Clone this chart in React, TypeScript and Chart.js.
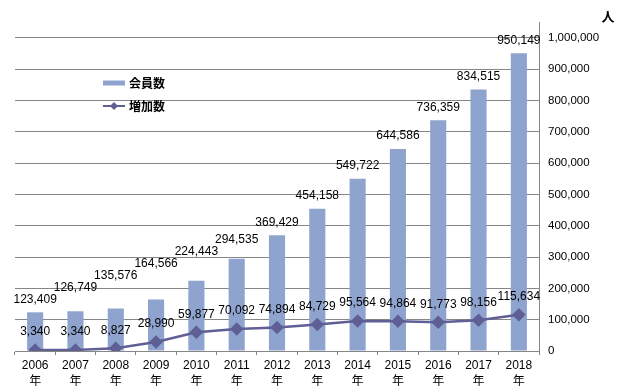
import React, { useEffect, useRef } from "react";
import { Chart, registerables } from "chart.js";

Chart.register(...registerables);

const years = ["2006", "2007", "2008", "2009", "2010", "2011", "2012", "2013", "2014", "2015", "2016", "2017", "2018"];
const members = [123409, 126749, 135576, 164566, 224443, 294535, 369429, 454158, 549722, 644586, 736359, 834515, 950149];
const increase = [3340, 3340, 8827, 28990, 59877, 70092, 74894, 84729, 95564, 94864, 91773, 98156, 115634];
const yTickValues = [0, 100000, 200000, 300000, 400000, 500000, 600000, 700000, 800000, 900000, 1000000];
const seriesNames = ["会員数", "増加数"];
const unitLabel = "人";
const yearSuffix = "年";

const BAR_COLOR = "#8FA3CF";
const LINE_COLOR = "#5F5F96";
const GRID_COLOR = "#868686";
const LATIN = "'Liberation Sans', Arial, sans-serif";
const CJK = "'Noto Sans CJK JP', 'Liberation Sans', sans-serif";
const MIXED = "'Liberation Sans', 'Noto Sans CJK JP', sans-serif";

const fmt = (v: number) => v.toLocaleString("en-US");

const overlayPlugin = {
  id: "overlay",
  afterDatasetsDraw(chart: any) {
    const ctx = chart.ctx;
    ctx.save();
    ctx.fillStyle = "#000";
    ctx.textAlign = "center";
    ctx.textBaseline = "middle";
    ctx.font = `12px ${LATIN}`;
    chart.data.datasets.forEach((ds: any, di: number) => {
      const meta = chart.getDatasetMeta(di);
      const isBar = ds.type === "bar";
      const off = isBar ? -13 : -18;
      let prev: { x: number; y: number; w: number } | null = null;
      meta.data.forEach((el: any, i: number) => {
        const text = fmt(ds.data[i]);
        const w = ctx.measureText(text).width;
        let y = el.y + off;
        if (isBar && prev) {
          const hOverlap = Math.abs(el.x - prev.x) < (w + prev.w) / 2 + 1;
          if (hOverlap && y > prev.y - 11) y = prev.y - 12;
        }
        ctx.fillText(text, el.x, y);
        prev = { x: el.x, y, w };
      });
    });

    // legend
    const lx = 103;
    const lw = 22;
    const ly1 = 83;
    const ly2 = 106;
    ctx.fillStyle = BAR_COLOR;
    ctx.fillRect(lx, ly1 - 2.5, lw, 5);
    ctx.strokeStyle = LINE_COLOR;
    ctx.lineWidth = 2;
    ctx.beginPath();
    ctx.moveTo(lx, ly2);
    ctx.lineTo(lx + lw, ly2);
    ctx.stroke();
    ctx.fillStyle = LINE_COLOR;
    const cx = lx + lw / 2;
    ctx.beginPath();
    ctx.moveTo(cx, ly2 - 4);
    ctx.lineTo(cx + 4, ly2);
    ctx.lineTo(cx, ly2 + 4);
    ctx.lineTo(cx - 4, ly2);
    ctx.closePath();
    ctx.fill();
    ctx.fillStyle = "#000";
    ctx.textAlign = "left";
    ctx.font = `bold 12px ${CJK}`;
    ctx.fillText(seriesNames[0], 129, ly1);
    ctx.fillText(seriesNames[1], 129, ly2);

    // unit
    ctx.font = `bold 13px ${CJK}`;
    ctx.textAlign = "center";
    ctx.fillText(unitLabel, 608, 16);
    ctx.restore();
  },
};

export default function App() {
  const ref = useRef<HTMLCanvasElement | null>(null);
  useEffect(() => {
    if (!ref.current) return;
    const chart = new Chart(ref.current, {
      type: "bar",
      data: {
        labels: years.map((y) => [y, yearSuffix]),
        datasets: [
          {
            type: "line" as const,
            label: seriesNames[1],
            data: increase,
            borderColor: LINE_COLOR,
            backgroundColor: LINE_COLOR,
            borderWidth: 2.5,
            pointStyle: "rectRot",
            pointRadius: 5,
            pointBackgroundColor: LINE_COLOR,
            pointBorderColor: LINE_COLOR,
            order: 1,
            yAxisID: "y",
          },
          {
            type: "bar" as const,
            label: seriesNames[0],
            data: members,
            backgroundColor: BAR_COLOR,
            barPercentage: 0.4,
            categoryPercentage: 1,
            order: 2,
            yAxisID: "y",
          },
        ],
      },
      options: {
        responsive: false,
        animation: false,
        layout: { padding: { left: 15, top: 22, right: 0, bottom: 0 } },
        plugins: { legend: { display: false }, tooltip: { enabled: false } },
        scales: {
          x: {
            offset: true,
            grid: {
              offset: true,
              drawOnChartArea: false,
              drawTicks: true,
              tickLength: 4,
              color: GRID_COLOR,
            },
            border: { color: GRID_COLOR, width: 1 },
            ticks: {
              color: "#000",
              padding: 3,
              maxRotation: 0,
              autoSkip: false,
              font: { family: MIXED, size: 12, lineHeight: 1.34 },
            },
            afterFit(scale: any) {
              scale.height = 40;
            },
          },
          y: {
            position: "right",
            min: 0,
            max: 1050000,
            grid: { color: GRID_COLOR, drawTicks: false, lineWidth: 1 },
            border: { color: GRID_COLOR, width: 1 },
            ticks: {
              padding: 9,
              color: "#000",
              autoSkip: false,
              font: { family: LATIN, size: 11.5 },
              callback: (v: any) => fmt(Number(v)),
            },
            afterBuildTicks(scale: any) {
              scale.ticks = yTickValues.map((v) => ({ value: v }));
            },
            afterFit(scale: any) {
              scale.width = 80;
            },
          },
        },
      },
      plugins: [overlayPlugin],
    });
    return () => chart.destroy();
  }, []);
  return (
    <div style={{ position: "fixed", left: 0, top: 0, width: 619, height: 391, background: "#fff" }}>
      <canvas ref={ref} width={619} height={391} style={{ width: 619, height: 391 }} />
    </div>
  );
}
